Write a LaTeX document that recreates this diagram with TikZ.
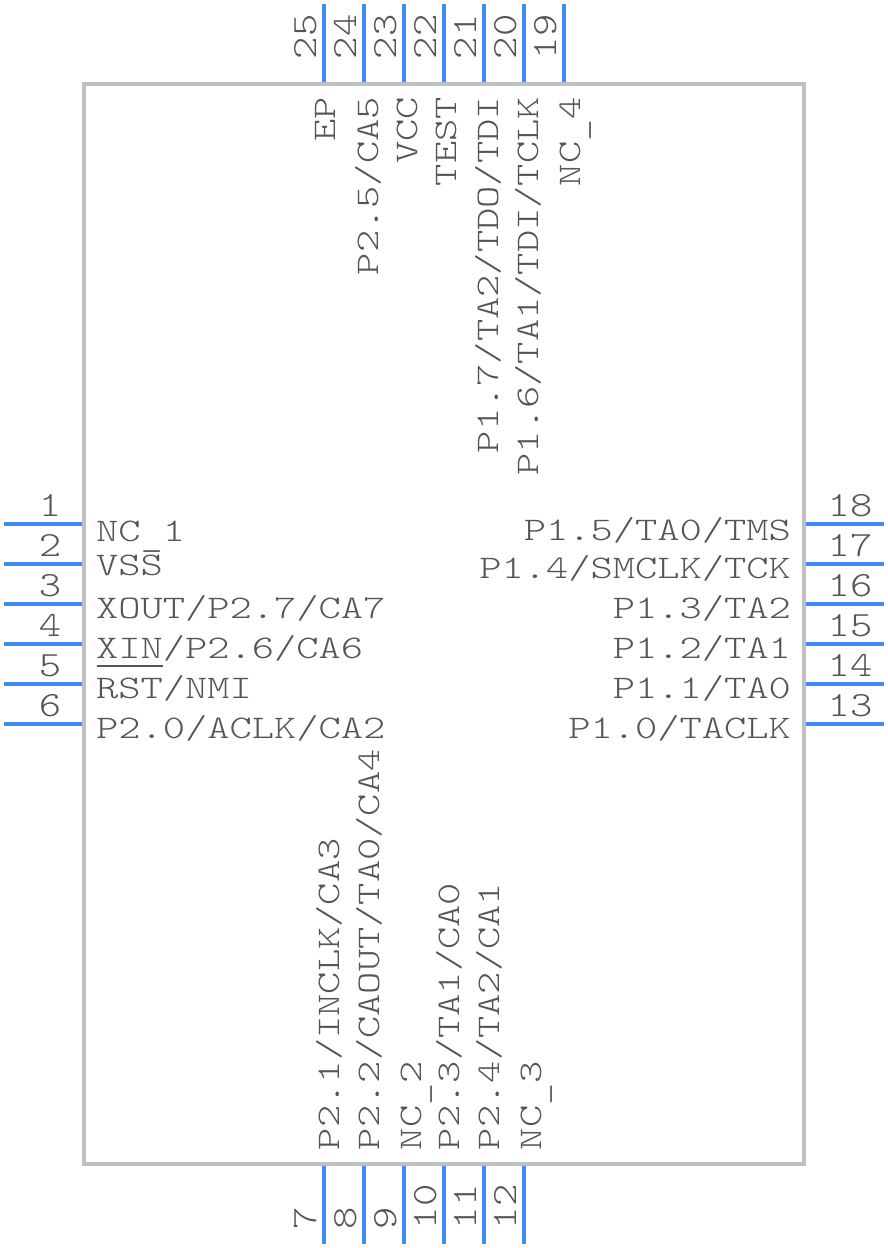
\documentclass[tikz,border=0pt]{standalone}
\usepackage{fontspec}
\newfontfamily\pinfont[FakeStretch=1.285]{Latin Modern Mono Light}
\newfontfamily\numfont[FakeStretch=1.2]{Latin Modern Mono Light}
\newcommand{\lowbar}{\raisebox{-5pt}{\_}}
\definecolor{pinblue}{HTML}{4488FF}
\definecolor{boxgray}{HTML}{C0C0C0}
\definecolor{txtgray}{HTML}{555555}
\tikzset{
  pinline/.style={draw=pinblue,line width=4pt},
  bodybox/.style={draw=boxgray,line width=4pt},
  overbar/.style={draw=txtgray,line width=1.6pt},
  lbl/.style={inner sep=0pt,outer sep=0pt,text=txtgray,font=\pinfont\fontsize{33}{33}\selectfont},
  num/.style={inner sep=0pt,outer sep=0pt,text=txtgray,font=\numfont\fontsize{35.5}{35.5}\selectfont},
  lw/.style={lbl,anchor=base west},
  le/.style={lbl,anchor=base east},
  lc/.style={num,anchor=base},
  up/.style={lbl,anchor=base west,rotate=90},
  dn/.style={lbl,anchor=base east,rotate=90},
  nup/.style={num,anchor=base west,rotate=90},
}
\begin{document}
\begin{tikzpicture}[x=1pt,y=-1pt]
\useasboundingbox (0,0) rectangle (888,1248);
% pins
\foreach \y in {524,564,604,644,684,724} {
  \draw[pinline] (4,\y) -- (84,\y);
  \draw[pinline] (804,\y) -- (884,\y);
}
\foreach \x in {324,364,404,444,484,524,564} \draw[pinline] (\x,4) -- (\x,84);
\foreach \x in {324,364,404,444,484,524} \draw[pinline] (\x,1164) -- (\x,1244);
\draw[bodybox] (84,84) rectangle (804,1164);
% left numbers
\node[lc] (n1) at (50,516) {1};
\node[lc] (n2) at (50,556) {2};
\node[lc] (n3) at (50,596) {3};
\node[lc] (n4) at (50,636) {4};
\node[lc] (n5) at (50,676) {5};
\node[lc] (n6) at (50,716) {6};
% right numbers
\node[lc] (n18) at (850,516) {18};
\node[lc] (n17) at (850,556) {17};
\node[lc] (n16) at (850,596) {16};
\node[lc] (n15) at (850,636) {15};
\node[lc] (n14) at (850,676) {14};
\node[lc] (n13) at (850,716) {13};
% top numbers
\node[nup] (n25) at (316,59) {25};
\node[nup] (n24) at (356,59) {24};
\node[nup] (n23) at (396,59) {23};
\node[nup] (n22) at (436,59) {22};
\node[nup] (n21) at (476,59) {21};
\node[nup] (n20) at (516,59) {20};
\node[nup] (n19) at (556,59) {19};
% bottom numbers
\node[nup] (n7) at (316,1229) {7};
\node[nup] (n8) at (356,1229) {8};
\node[nup] (n9) at (396,1229) {9};
\node[nup] (n10) at (436,1229) {10};
\node[nup] (n11) at (476,1229) {11};
\node[nup] (n12) at (516,1229) {12};
% left labels
\node[lw] (l1) at (96,541) {NC\lowbar 1};
\node[lw] (l2) at (96,575) {VSS};
\node[lw] (l3) at (96,618) {XOUT/P2.7/CA7};
\node[lw] (l4) at (96,658) {XIN/P2.6/CA6};
\node[lw] (l5) at (96,698) {RST/NMI};
\node[lw] (l6) at (96,738) {P2.0/ACLK/CA2};
\draw[overbar] (97,666) -- (163,666);
% right labels
\node[le] (r18) at (791,540) {P1.5/TA0/TMS};
\node[le] (r17) at (791,578) {P1.4/SMCLK/TCK};
\node[le] (r16) at (791,618) {P1.3/TA2};
\node[le] (r15) at (791,658) {P1.2/TA1};
\node[le] (r14) at (791,698) {P1.1/TA0};
\node[le] (r13) at (791,738) {P1.0/TACLK};
% top labels
\node[dn] (t25) at (335,97) {EP};
\node[dn] (t24) at (378,97) {P2.5/CA5};
\node[dn] (t23) at (417,97) {VCC};
\node[dn] (t22) at (456,97) {TEST};
\node[dn] (t21) at (498,97) {P1.7/TA2/TDO/TDI};
\node[dn] (t20) at (538,97) {P1.6/TA1/TDI/TCLK};
\node[dn] (t19) at (580,97) {NC\lowbar 4};
% bottom labels
\node[up] (b7) at (339,1150) {P2.1/INCLK/CA3};
\node[up] (b8) at (379,1150) {P2.2/CAOUT/TA0/CA4};
\node[up] (b9) at (421,1150) {NC\lowbar 2};
\node[up] (b10) at (459,1150) {P2.3/TA1/CA0};
\node[up] (b11) at (499,1150) {P2.4/TA2/CA1};
\node[up] (b12) at (541,1150) {NC\lowbar 3};
\end{tikzpicture}
\end{document}
